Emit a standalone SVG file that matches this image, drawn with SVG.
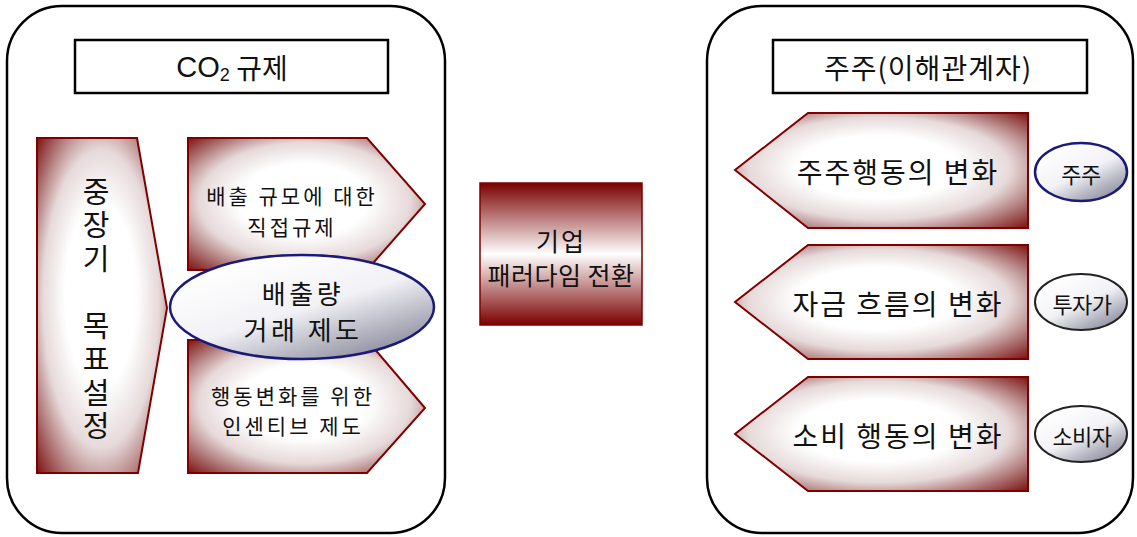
<svg xmlns="http://www.w3.org/2000/svg" width="1137" height="537" viewBox="0 0 1137 537">
<defs>
<radialGradient id="redRad" cx="0.5" cy="0.5" r="0.72" fx="0.48" fy="0.45">
<stop offset="0" stop-color="#ffffff"/>
<stop offset="0.38" stop-color="#ffffff"/>
<stop offset="0.62" stop-color="#e6d9d9"/>
<stop offset="0.82" stop-color="#a86a6a"/>
<stop offset="1" stop-color="#780606"/>
</radialGradient>
<linearGradient id="redVert" x1="0" y1="0" x2="0" y2="1">
<stop offset="0" stop-color="#7a0000"/>
<stop offset="0.5" stop-color="#ffffff"/>
<stop offset="1" stop-color="#7a0000"/>
</linearGradient>
<linearGradient id="grayDiag" x1="0.2" y1="0.1" x2="0.9" y2="1">
<stop offset="0" stop-color="#ffffff"/>
<stop offset="0.45" stop-color="#f2f2f6"/>
<stop offset="1" stop-color="#7c7c90"/>
</linearGradient>
<style>
.container{fill:#ffffff;stroke:#000000;stroke-width:2.5}
.title{fill:#ffffff;stroke:#000000;stroke-width:2.5}
.shape{fill:url(#redRad);stroke:#800000;stroke-width:2}
.mid{fill:url(#redVert);stroke:#800000;stroke-width:1.5}
.ell{fill:url(#grayDiag);stroke:#1a1a7a;stroke-width:2.5}
.ellg{fill:url(#grayDiag);stroke:#222222;stroke-width:2}
text{font-family:"Noto Sans CJK KR","Liberation Sans",sans-serif;fill:#111111;text-anchor:middle;dominant-baseline:central}
.t28{font-size:28px}
.t22{font-size:21px;letter-spacing:3px}
.t27{font-size:26px;letter-spacing:3.5px}
.t26{font-size:25px;letter-spacing:2px}
.t20{font-size:22px;letter-spacing:-0.5px}
.vert{font-size:29px;writing-mode:vertical-rl;text-anchor:start;letter-spacing:4.5px}
</style>
</defs>
<g id="left-container">
<rect class="container" x="7" y="6" width="438" height="527" rx="55" ry="55"/>
</g>
<g id="co2-title">
<rect class="title" x="75" y="40" width="313" height="53"/>
<text class="t28" x="232" y="67"><tspan font-family="Liberation Sans" font-size="29">CO</tspan><tspan font-family="Liberation Sans" font-size="18" dy="8">2</tspan><tspan dy="-8"> 규제</tspan></text>
</g>
<g id="target-setting">
<polygon class="shape" points="37,138 137,138 167,308 138,473 37,473"/>
<text class="vert" x="96" y="177">중장기　목표설정</text>
</g>
<g id="direct-regulation">
<polygon class="shape" points="188,138 367,138 425,204 367,270 188,270"/>
<text class="t22" x="292" y="195"><tspan x="292" y="195">배출 규모에 대한</tspan><tspan x="292" y="226">직접규제</tspan></text>
</g>
<g id="incentive">
<polygon class="shape" points="188,340 367,340 425,408 367,473 188,473"/>
<text class="t22" x="293" y="395"><tspan x="293" y="395">행동변화를 위한</tspan><tspan x="293" y="425">인센티브 제도</tspan></text>
</g>
<g id="emission-trading">
<ellipse class="ell" cx="302" cy="307" rx="132" ry="52"/>
<text class="t27" x="303" y="292"><tspan x="303" y="292">배출량</tspan><tspan x="303" y="328">거래 제도</tspan></text>
</g>
<g id="paradigm-shift">
<rect class="mid" x="480" y="183" width="162" height="142"/>
<text class="t26" x="561" y="240"><tspan x="561" y="240">기업</tspan><tspan x="561" y="274" letter-spacing="0.5">패러다임 전환</tspan></text>
</g>
<g id="right-container">
<rect class="container" x="707" y="6" width="426" height="527" rx="55" ry="55"/>
</g>
<g id="stakeholder-title">
<rect class="title" x="773" y="40" width="314" height="53"/>
<text class="t28" x="928" y="67" letter-spacing="1">주주(이해관계자)</text>
</g>
<g id="shareholder-behavior">
<polygon class="shape" points="1028,113 808,113 735,170 808,228 1028,228"/>
<text class="t28" x="898" y="171" letter-spacing="2">주주행동의 변화</text>
</g>
<g id="capital-flow">
<polygon class="shape" points="1028,245 808,245 735,302 808,359 1028,359"/>
<text class="t28" x="898" y="303" letter-spacing="2">자금 흐름의 변화</text>
</g>
<g id="consumer-behavior">
<polygon class="shape" points="1028,377 808,377 735,434 808,491 1028,491"/>
<text class="t28" x="898" y="435" letter-spacing="2">소비 행동의 변화</text>
</g>
<g id="shareholder">
<ellipse class="ell" cx="1081" cy="172" rx="46" ry="29"/>
<text class="t20" x="1081" y="173">주주</text>
</g>
<g id="investor">
<ellipse class="ellg" cx="1081" cy="302" rx="46" ry="28"/>
<text class="t20" x="1082" y="303">투자가</text>
</g>
<g id="consumer">
<ellipse class="ellg" cx="1081" cy="434" rx="46" ry="28"/>
<text class="t20" x="1082" y="435">소비자</text>
</g>
<g id="connectors"></g>
</svg>
